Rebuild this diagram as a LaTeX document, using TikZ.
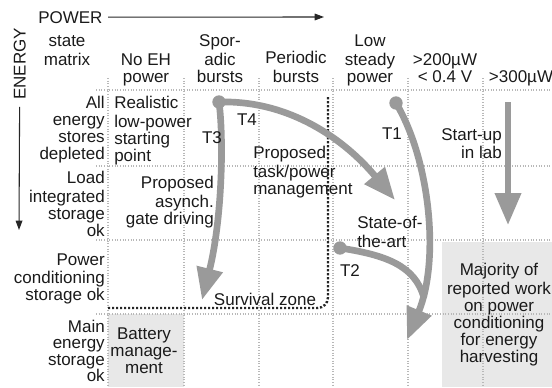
\documentclass[tikz,border=0pt]{standalone}
\usepackage{fontspec}
\setmainfont{Liberation Sans}
\usetikzlibrary{arrows.meta}
\definecolor{arrgray}{HTML}{9A9A9A}
\definecolor{shadec}{HTML}{E8E8E8}
\definecolor{gridc}{HTML}{B8B8B8}
\definecolor{txt}{HTML}{1A1A1A}
\begin{document}
\begin{tikzpicture}[x=0.75pt,y=-0.75pt,
  lbl/.style={inner sep=0pt, text=txt, font=\fontsize{12.75}{12.75}\selectfont},
  gridline/.style={gridc, line width=0.8pt, dash pattern=on 0.8pt off 1.2pt},
  bigarrow/.style={arrgray, line width=5pt, -{Triangle[length=24pt,width=19pt]}},
  bigline/.style={arrgray, line width=5pt},
  startdot/.style={circle, fill=arrgray, minimum size=10pt, inner sep=0pt},
  survival/.style={black!85, line width=1.8pt, dash pattern=on 1.6pt off 1.4pt, rounded corners=8pt},
  axisarrow/.style={black!85, line width=0.8pt, -{Triangle[length=7pt,width=5pt]}}
]
\useasboundingbox (0,0) rectangle (552,387);
% shaded cells
\fill[shadec] (108,314) rectangle (184,387);
\fill[shadec] (442,242) rectangle (552,387);
% grid
\foreach \y in {90,166,240,314} \draw[gridline] (96,\y) -- (552,\y);
\foreach \x in {108,184,259,333,408,483} \draw[gridline] (\x,78) -- (\x,387);
% axes
\node[lbl, anchor=base west] (powerlbl) at (38,23) {POWER};
\coordinate (pwtip) at (324,17);
\draw[axisarrow, shorten <=4pt] (powerlbl.east) -- (pwtip);
\node[lbl, anchor=base, rotate=90] (energylbl) at (25.5,64) {ENERGY};
\coordinate (entip) at (19,230);
\draw[axisarrow, shorten <=5pt] (energylbl.west) -- (entip);
% survival zone
\coordinate (sz1) at (108,308);
\coordinate (sz2) at (328,308);
\coordinate (sz3) at (328,97);
\draw[survival] (sz1) -- (sz2) -- (sz3);
\node[lbl, anchor=base] (survlbl) at (265,305) {Survival zone};
% arrows
\node[startdot] (d34) at (219,102) {};
\coordinate (t3tip) at (202,300);
\coordinate (t4tip) at (395,200);
\draw[bigarrow] (d34.center) .. controls (224,140) and (222,220) .. (t3tip);
\draw[bigarrow] (d34.center) .. controls (290,100) and (345,140) .. (t4tip);
\node[startdot] (d1) at (396,103) {};
\coordinate (t1tip) at (407,340);
\draw[bigarrow] (d1.center) .. controls (430,160) and (440,260) .. (t1tip);
\node[startdot] (d2) at (340,248) {};
\coordinate (t2end) at (424,298);
\draw[bigline] (d2.center) .. controls (385,255) and (415,265) .. (t2end);
\coordinate (su1) at (508,102);
\coordinate (su2) at (508,225);
\draw[bigarrow, line width=4.5pt] (su1) -- (su2);
% T labels
\node[lbl, anchor=base] (lt3) at (212,143) {T3};
\node[lbl, anchor=base] (lt4) at (247,125) {T4};
\node[lbl, anchor=base] (lt1) at (392,139) {T1};
\node[lbl, anchor=base] (lt2) at (350,276) {T2};
% column headers
\node[lbl, align=center, anchor=south] (hsm) at (67,71) {\strut state\\matrix\strut};
\node[lbl, align=center, anchor=south] (hnoeh) at (146,88) {\strut No EH\\power\strut};
\node[lbl, align=center, anchor=south] (hspor) at (220,88) {\strut Spor-\\adic\\bursts\strut};
\node[lbl, align=center, anchor=south] (hper) at (296,88) {\strut Periodic\\bursts\strut};
\node[lbl, align=center, anchor=south] (hlow) at (370,88) {\strut Low\\steady\\power\strut};
\node[lbl, align=center, anchor=south] (h200) at (445,88) {\strut >200µW\\< 0.4 V\strut};
\node[lbl, align=center, anchor=south] (h300) at (521,88) {\strut >300µW\strut};
% row labels
\node[lbl, align=right, anchor=north east] (r1) at (105,96) {\strut All\\energy\\stores\\depleted\strut};
\node[lbl, align=right, anchor=north east] (r2) at (105,171) {\strut Load\\integrated\\storage\\ok\strut};
\node[lbl, align=right, anchor=north east] (r3) at (105,253) {\strut Power\\conditioning\\storage ok\strut};
\node[lbl, align=right, anchor=north east, font=\fontsize{12.75}{12.2}\selectfont] (r4) at (105,320) {\strut Main\\energy\\storage\\ok\strut};
% cell texts
\node[lbl, align=left, anchor=north west] (c11) at (114,96) {\strut Realistic\\low-power\\starting\\point\strut};
\node[lbl, align=right, anchor=north east] (c22) at (214,176) {\strut Proposed\\asynch.\\gate driving\strut};
\node[lbl, align=left, anchor=north west] (c23) at (253,146) {\strut Proposed\\task/power\\management\strut};
\node[lbl, align=left, anchor=north west] (c35) at (357,216) {\strut State-of-\\the-art\strut};
\node[lbl, align=right, anchor=north east] (c17) at (502,128) {\strut Start-up\\in lab\strut};
\node[lbl, align=center, anchor=north] (cmaj) at (499,263) {\strut Majority of\\reported work\\on power\\conditioning\\for energy\\harvesting\strut};
\node[lbl, align=center, anchor=north] (cbat) at (144,327) {\strut Battery\\manage-\\ment\strut};
\end{tikzpicture}
\end{document}
